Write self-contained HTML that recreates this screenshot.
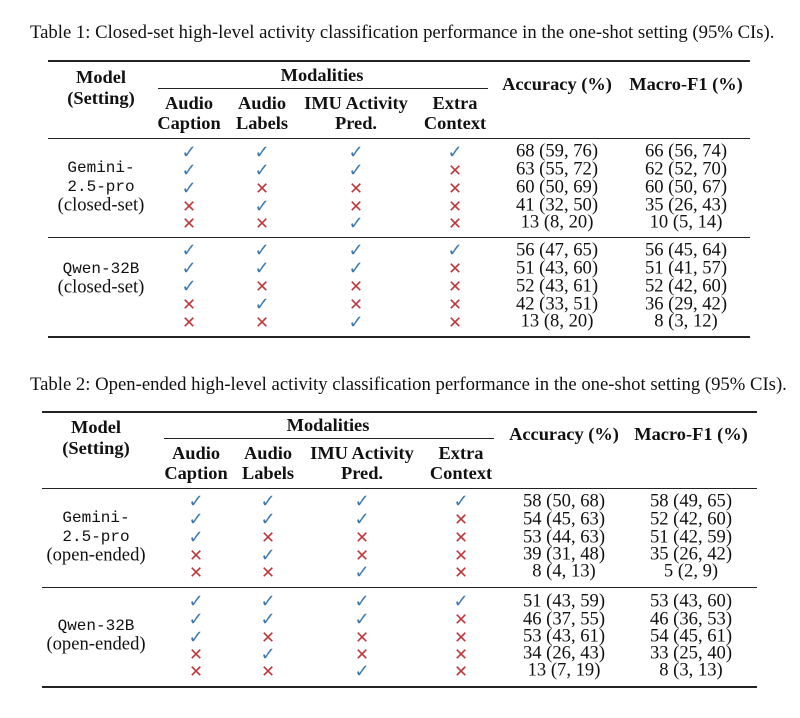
<!DOCTYPE html>
<html><head><meta charset="utf-8"><style>
body{margin:0;width:800px;height:718px;background:#fff;position:relative;overflow:hidden;font-family:"Liberation Serif",serif;color:#111}
.t{position:absolute;white-space:nowrap;transform:translate(-50%,-50%);font-size:18.6px;line-height:1}
.b{font-weight:bold;font-size:18.4px}
.m{font-family:"Liberation Mono",monospace;font-size:16px}
.ck{color:#3d7ab0;font-size:18px}
.x{color:#c0353a;font-size:16.5px}
.r{position:absolute;background:#222}
.cap{position:absolute;font-size:18.7px;white-space:nowrap;transform:translateY(-50%)}
</style></head><body>
<div class="cap" style="left:30px;top:33px">Table 1: Closed-set high-level activity classification performance in the one-shot setting (95% CIs).</div>
<div class="r" style="left:48px;top:60px;width:702px;height:1.5px"></div>
<div class="r" style="left:158px;top:88px;width:330px;height:1px"></div>
<div class="r" style="left:48px;top:138px;width:702px;height:1px"></div>
<div class="r" style="left:48px;top:237px;width:702px;height:1px"></div>
<div class="r" style="left:48px;top:336px;width:702px;height:1.5px"></div>
<div class="t b" style="left:101px;top:77px">Model</div>
<div class="t b" style="left:101px;top:98px">(Setting)</div>
<div class="t b" style="left:322px;top:75px">Modalities</div>
<div class="t b" style="left:189px;top:103px">Audio</div><div class="t b" style="left:189px;top:123px">Caption</div>
<div class="t b" style="left:262px;top:103px">Audio</div><div class="t b" style="left:262px;top:123px">Labels</div>
<div class="t b" style="left:356px;top:103px">IMU Activity</div><div class="t b" style="left:356px;top:123px">Pred.</div>
<div class="t b" style="left:455px;top:103px">Extra</div><div class="t b" style="left:455px;top:123px">Context</div>
<div class="t b" style="left:557px;top:84px">Accuracy (%)</div>
<div class="t b" style="left:686px;top:84px">Macro-F1 (%)</div>
<div class="t m" style="left:101px;top:168px">Gemini-</div>
<div class="t m" style="left:101px;top:187px">2.5-pro</div>
<div class="t" style="left:101px;top:206px">(closed-set)</div>
<div class="t m" style="left:101px;top:269px">Qwen-32B</div>
<div class="t" style="left:101px;top:288px">(closed-set)</div>

<div class="t ck" style="left:189px;top:152px">✓</div><div class="t ck" style="left:262px;top:152px">✓</div><div class="t ck" style="left:356px;top:152px">✓</div><div class="t ck" style="left:455px;top:152px">✓</div><div class="t" style="left:557px;top:152px">68 (59, 76)</div><div class="t" style="left:686px;top:152px">66 (56, 74)</div>
<div class="t ck" style="left:189px;top:170px">✓</div><div class="t ck" style="left:262px;top:170px">✓</div><div class="t ck" style="left:356px;top:170px">✓</div><div class="t x" style="left:455px;top:171px">✕</div><div class="t" style="left:557px;top:170px">63 (55, 72)</div><div class="t" style="left:686px;top:170px">62 (52, 70)</div>
<div class="t ck" style="left:189px;top:188px">✓</div><div class="t x" style="left:262px;top:189px">✕</div><div class="t x" style="left:356px;top:189px">✕</div><div class="t x" style="left:455px;top:189px">✕</div><div class="t" style="left:557px;top:188px">60 (50, 69)</div><div class="t" style="left:686px;top:188px">60 (50, 67)</div>
<div class="t x" style="left:189px;top:207px">✕</div><div class="t ck" style="left:262px;top:206px">✓</div><div class="t x" style="left:356px;top:207px">✕</div><div class="t x" style="left:455px;top:207px">✕</div><div class="t" style="left:557px;top:206px">41 (32, 50)</div><div class="t" style="left:686px;top:206px">35 (26, 43)</div>
<div class="t x" style="left:189px;top:224px">✕</div><div class="t x" style="left:262px;top:224px">✕</div><div class="t ck" style="left:356px;top:223px">✓</div><div class="t x" style="left:455px;top:224px">✕</div><div class="t" style="left:557px;top:223px">13 (8, 20)</div><div class="t" style="left:686px;top:223px">10 (5, 14)</div>

<div class="t ck" style="left:189px;top:250px">✓</div><div class="t ck" style="left:262px;top:250px">✓</div><div class="t ck" style="left:356px;top:250px">✓</div><div class="t ck" style="left:455px;top:250px">✓</div><div class="t" style="left:557px;top:251px">56 (47, 65)</div><div class="t" style="left:686px;top:251px">56 (45, 64)</div>
<div class="t ck" style="left:189px;top:268px">✓</div><div class="t ck" style="left:262px;top:268px">✓</div><div class="t ck" style="left:356px;top:268px">✓</div><div class="t x" style="left:455px;top:269px">✕</div><div class="t" style="left:557px;top:269px">51 (43, 60)</div><div class="t" style="left:686px;top:269px">51 (41, 57)</div>
<div class="t ck" style="left:189px;top:286px">✓</div><div class="t x" style="left:262px;top:287px">✕</div><div class="t x" style="left:356px;top:287px">✕</div><div class="t x" style="left:455px;top:287px">✕</div><div class="t" style="left:557px;top:287px">52 (43, 61)</div><div class="t" style="left:686px;top:287px">52 (42, 60)</div>
<div class="t x" style="left:189px;top:305px">✕</div><div class="t ck" style="left:262px;top:304px">✓</div><div class="t x" style="left:356px;top:305px">✕</div><div class="t x" style="left:455px;top:305px">✕</div><div class="t" style="left:557px;top:305px">42 (33, 51)</div><div class="t" style="left:686px;top:305px">36 (29, 42)</div>
<div class="t x" style="left:189px;top:323px">✕</div><div class="t x" style="left:262px;top:323px">✕</div><div class="t ck" style="left:356px;top:322px">✓</div><div class="t x" style="left:455px;top:323px">✕</div><div class="t" style="left:557px;top:322px">13 (8, 20)</div><div class="t" style="left:686px;top:322px">8 (3, 12)</div>

<div class="cap" style="left:30px;top:385px">Table 2: Open-ended high-level activity classification performance in the one-shot setting (95% CIs).</div>
<div class="r" style="left:42px;top:411px;width:715px;height:1.5px"></div>
<div class="r" style="left:164px;top:438px;width:330px;height:1px"></div>
<div class="r" style="left:42px;top:488px;width:715px;height:1px"></div>
<div class="r" style="left:42px;top:587px;width:715px;height:1px"></div>
<div class="r" style="left:42px;top:686px;width:715px;height:1.5px"></div>
<div class="t b" style="left:96px;top:427px">Model</div>
<div class="t b" style="left:96px;top:448px">(Setting)</div>
<div class="t b" style="left:328px;top:425px">Modalities</div>
<div class="t b" style="left:196px;top:453px">Audio</div><div class="t b" style="left:196px;top:473px">Caption</div>
<div class="t b" style="left:268px;top:453px">Audio</div><div class="t b" style="left:268px;top:473px">Labels</div>
<div class="t b" style="left:362px;top:453px">IMU Activity</div><div class="t b" style="left:362px;top:473px">Pred.</div>
<div class="t b" style="left:461px;top:453px">Extra</div><div class="t b" style="left:461px;top:473px">Context</div>
<div class="t b" style="left:564px;top:434px">Accuracy (%)</div>
<div class="t b" style="left:691px;top:434px">Macro-F1 (%)</div>
<div class="t m" style="left:96px;top:518px">Gemini-</div>
<div class="t m" style="left:96px;top:537px">2.5-pro</div>
<div class="t" style="left:96px;top:556px">(open-ended)</div>
<div class="t m" style="left:96px;top:626px">Qwen-32B</div>
<div class="t" style="left:96px;top:645px">(open-ended)</div>

<div class="t ck" style="left:196px;top:501px">✓</div><div class="t ck" style="left:268px;top:501px">✓</div><div class="t ck" style="left:362px;top:501px">✓</div><div class="t ck" style="left:461px;top:501px">✓</div><div class="t" style="left:564px;top:502px">58 (50, 68)</div><div class="t" style="left:691px;top:502px">58 (49, 65)</div>
<div class="t ck" style="left:196px;top:519px">✓</div><div class="t ck" style="left:268px;top:519px">✓</div><div class="t ck" style="left:362px;top:519px">✓</div><div class="t x" style="left:461px;top:520px">✕</div><div class="t" style="left:564px;top:520px">54 (45, 63)</div><div class="t" style="left:691px;top:520px">52 (42, 60)</div>
<div class="t ck" style="left:196px;top:537px">✓</div><div class="t x" style="left:268px;top:538px">✕</div><div class="t x" style="left:362px;top:538px">✕</div><div class="t x" style="left:461px;top:538px">✕</div><div class="t" style="left:564px;top:538px">53 (44, 63)</div><div class="t" style="left:691px;top:538px">51 (42, 59)</div>
<div class="t x" style="left:196px;top:556px">✕</div><div class="t ck" style="left:268px;top:555px">✓</div><div class="t x" style="left:362px;top:556px">✕</div><div class="t x" style="left:461px;top:556px">✕</div><div class="t" style="left:564px;top:555px">39 (31, 48)</div><div class="t" style="left:691px;top:555px">35 (26, 42)</div>
<div class="t x" style="left:196px;top:573px">✕</div><div class="t x" style="left:268px;top:573px">✕</div><div class="t ck" style="left:362px;top:572px">✓</div><div class="t x" style="left:461px;top:573px">✕</div><div class="t" style="left:564px;top:572px">8 (4, 13)</div><div class="t" style="left:691px;top:572px">5 (2, 9)</div>

<div class="t ck" style="left:196px;top:601px">✓</div><div class="t ck" style="left:268px;top:601px">✓</div><div class="t ck" style="left:362px;top:601px">✓</div><div class="t ck" style="left:461px;top:601px">✓</div><div class="t" style="left:564px;top:602px">51 (43, 59)</div><div class="t" style="left:691px;top:602px">53 (43, 60)</div>
<div class="t ck" style="left:196px;top:619px">✓</div><div class="t ck" style="left:268px;top:619px">✓</div><div class="t ck" style="left:362px;top:619px">✓</div><div class="t x" style="left:461px;top:620px">✕</div><div class="t" style="left:564px;top:620px">46 (37, 55)</div><div class="t" style="left:691px;top:620px">46 (36, 53)</div>
<div class="t ck" style="left:196px;top:637px">✓</div><div class="t x" style="left:268px;top:638px">✕</div><div class="t x" style="left:362px;top:638px">✕</div><div class="t x" style="left:461px;top:638px">✕</div><div class="t" style="left:564px;top:637px">53 (43, 61)</div><div class="t" style="left:691px;top:637px">54 (45, 61)</div>
<div class="t x" style="left:196px;top:655px">✕</div><div class="t ck" style="left:268px;top:654px">✓</div><div class="t x" style="left:362px;top:655px">✕</div><div class="t x" style="left:461px;top:655px">✕</div><div class="t" style="left:564px;top:654px">34 (26, 43)</div><div class="t" style="left:691px;top:654px">33 (25, 40)</div>
<div class="t x" style="left:196px;top:672px">✕</div><div class="t x" style="left:268px;top:672px">✕</div><div class="t ck" style="left:362px;top:671px">✓</div><div class="t x" style="left:461px;top:672px">✕</div><div class="t" style="left:564px;top:671px">13 (7, 19)</div><div class="t" style="left:691px;top:671px">8 (3, 13)</div>
</body></html>
